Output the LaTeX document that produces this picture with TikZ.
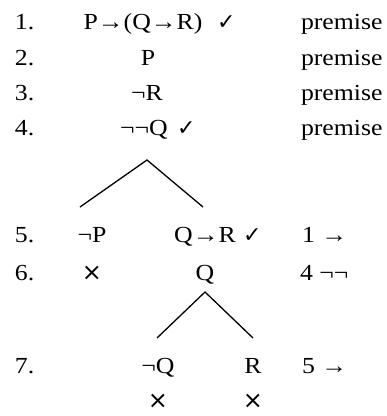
\documentclass[tikz,border=0pt]{standalone}
\usepackage{fontspec}
\setmainfont{Liberation Serif}[FakeStretch=1.12]
\newfontfamily\symfont{DejaVu Sans}
\begin{document}
\begin{tikzpicture}[x=1pt,y=-1pt,
  every node/.style={inner sep=0pt,outer sep=0pt,font=\fontsize{23}{25}\selectfont},
  lab/.style={anchor=base west},
  fml/.style={anchor=base},
  chk/.style={anchor=base west,font=\fontsize{22}{24}\symfont\bfseries},
  cross/.style={anchor=base,text height=12pt,text depth=0pt,font=\fontsize{24}{26}\symfont},
  branch/.style={line width=1.3pt}]
\useasboundingbox (0,0) rectangle (387,416);
% line numbers
\node[lab] (l1) at (15,29) {1.};
\node[lab] (l2) at (15,65) {2.};
\node[lab] (l3) at (15,100) {3.};
\node[lab] (l4) at (15,135) {4.};
\node[lab] (l5) at (15,242) {5.};
\node[lab] (l6) at (15,280) {6.};
\node[lab] (l7) at (15,373) {7.};
% formulas
\node[fml] (f1) at (143,29) {P→(Q→R)};
\node[chk] (c1) at (217,29) {✓};
\node[fml] (f2) at (148,65) {P};
\node[fml] (f3) at (147,100) {¬R};
\node[fml] (f4) at (144,135) {¬¬Q};
\node[chk] (c4) at (177,135) {✓};
\node[fml] (f5l) at (92,242) {¬P};
\node[fml] (f5r) at (205,242) {Q→R};
\node[chk] (c5) at (243,242) {✓};
\node[cross] (x6) at (92,280) {×};
\node[fml] (f6) at (205,280) {Q};
\node[fml] (f7l) at (158,373) {¬Q};
\node[fml] (f7r) at (253,373) {R};
\node[cross] (x8l) at (158,408) {×};
\node[cross] (x8r) at (253,408) {×};
% justifications
\node[lab] (j1) at (301,29) {premise};
\node[lab] (j2) at (301,65) {premise};
\node[lab] (j3) at (301,100) {premise};
\node[lab] (j4) at (301,135) {premise};
\node[lab] (j5) at (302,242) {1 →};
\node[lab] (j6) at (300,280) {4 ¬¬};
\node[lab] (j7) at (302,373) {5 →};
% branches
\coordinate (a1) at (147,160);
\coordinate (b1l) at (80,207);
\coordinate (b1r) at (203,207);
\coordinate (a2) at (205,292);
\coordinate (b2l) at (157,338);
\coordinate (b2r) at (253,338);
\draw[branch] (b1l) -- (a1) -- (b1r);
\draw[branch] (b2l) -- (a2) -- (b2r);
\end{tikzpicture}
\end{document}
